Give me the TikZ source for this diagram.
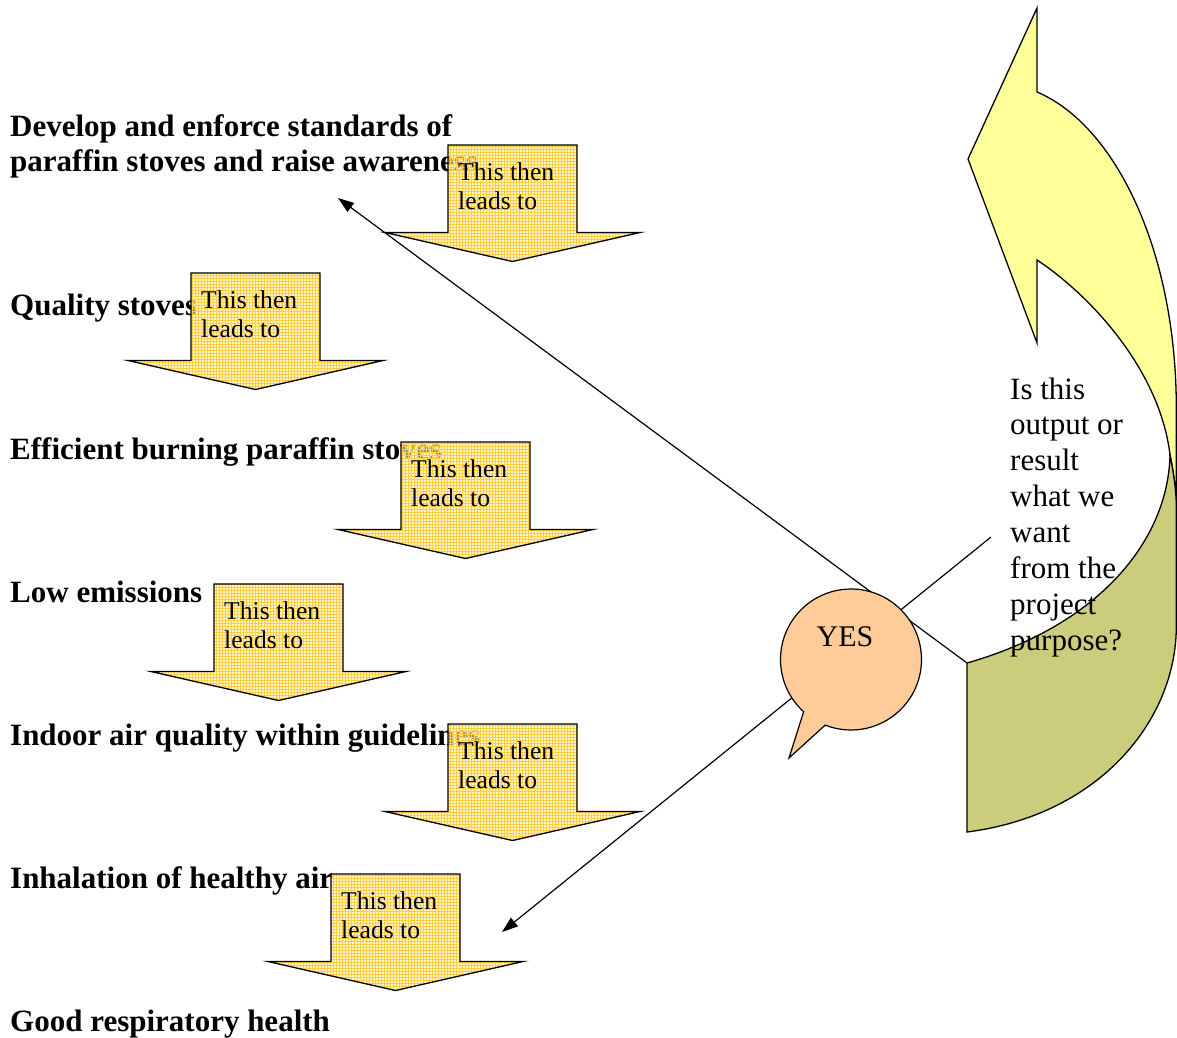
\documentclass[tikz,border=0pt]{standalone}
\usepackage{fontspec}
\setmainfont{Liberation Serif}
\usetikzlibrary{arrows.meta,patterns}
\definecolor{arrowyel}{HTML}{FFEDAA}
\definecolor{gridyel}{HTML}{FFCF40}
\definecolor{curvyel}{HTML}{FFFF99}
\definecolor{backolive}{HTML}{CCCC7D}
\definecolor{peach}{HTML}{FFCC99}
\tikzset{
  lbl/.style={font=\fontsize{31}{35.5}\selectfont\bfseries, anchor=base west, inner sep=0pt, align=left},
  leads/.style={font=\fontsize{25.6}{29.5}\selectfont, anchor=base west, inner sep=0pt, align=left},
  qtext/.style={font=\fontsize{31}{35.9}\selectfont, anchor=base west, inner sep=0pt, align=left},
  conn/.style={line width=1.2pt, -{Triangle[length=16pt,width=11pt]}},
  outl/.style={draw=black, line width=1.3pt},
  downarrow/.pic={
    \path[preaction={fill=arrowyel, fill opacity=0.6}, pattern=grid, pattern color=gridyel, fill opacity=0.85, outl]
      (0,0) -- (129,0) -- (129,87.5) -- (192,87.5) -- (64.5,116.5) -- (-63,87.5) -- (0,87.5) -- cycle;
    \node[leads] (-txt) at (10,64.5) {This then\\leads to};
  }
}
\begin{document}
\begin{tikzpicture}[x=1pt,y=-1pt]
\useasboundingbox (0,0) rectangle (1177,1037);
% labels (multi-line nodes are placed by their last baseline)
\node[lbl] (l1) at (10,171.5) {Develop and enforce standards of\\paraffin stoves and raise awareness};
\node[lbl] (l2) at (10,315) {Quality stoves};
\node[lbl] (l3) at (10,459) {Efficient burning paraffin stoves};
\node[lbl] (l4) at (10,602) {Low emissions};
\node[lbl] (l5) at (10,745) {Indoor air quality within guidelines};
\node[lbl] (l6) at (10,888) {Inhalation of healthy air};
\node[lbl] (l7) at (10,1031) {Good respiratory health};
% block arrows
\pic (a1) at (448,145) {downarrow};
\pic (a2) at (191,273) {downarrow};
\pic (a3) at (401,442) {downarrow};
\pic (a4) at (214,584) {downarrow};
\pic (a5) at (448,724) {downarrow};
\pic (a6) at (331,874) {downarrow};
% connectors
\coordinate (corner) at (967,663);
\coordinate (tip1) at (338,198);
\coordinate (qptr) at (991,537);
\coordinate (tip2) at (502,932);
\draw[conn] (corner) -- (tip1);
\draw[conn] (qptr) -- (tip2);
% curved arrow front face
\path[outl, fill=curvyel]
  (1037,8) -- (968,159) -- (1037,343) -- (1037,260)
  .. controls (1090,295) and (1160,370) .. (1170,455)
  .. controls (1174,475) and (1176,490) .. (1176.3,505)
  -- (1176.3,407)
  .. controls (1176,250) and (1115,125) .. (1037,92) -- cycle;
% curved arrow back face
\path[outl, fill=backolive]
  (1170,455) .. controls (1168,540) and (1100,625) .. (967,663)
  -- (967,832)
  .. controls (1100,815) and (1176,720) .. (1176.3,627)
  -- (1176.3,505)
  .. controls (1176,490) and (1174,475) .. (1170,455) -- cycle;
% callout
\coordinate (yc) at (851,659.5);
\path[outl, line width=1.2pt, fill=peach]
  (yc) ++(132.2:70.5) arc[start angle=132.2, end angle=471.5, radius=70.5] -- (789,758) -- cycle;
\node[font=\fontsize{30}{34}\selectfont, inner sep=0pt] (yes) at (845,637) {YES};
% question
\node[qtext] (q) at (1010,650.3) {Is this\\output or\\result\\what we\\want\\from the\\project\\purpose?};
\end{tikzpicture}
\end{document}
